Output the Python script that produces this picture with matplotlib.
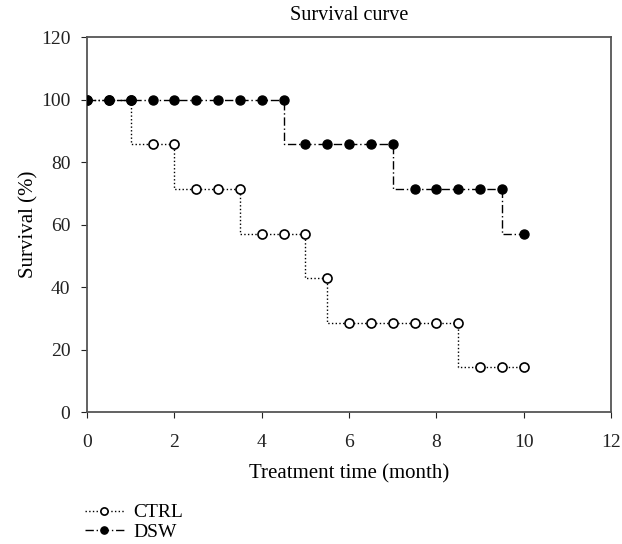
import matplotlib
matplotlib.use('Agg')
import matplotlib.pyplot as plt

plt.rcParams['font.family'] = ['Liberation Serif', 'DejaVu Serif']

# survival data (months, %)
months = [0, 0.5, 1, 1.5, 2, 2.5, 3, 3.5, 4, 4.5, 5, 5.5, 6, 6.5, 7, 7.5, 8, 8.5, 9, 9.5, 10]
ctrl = [100, 100, 100, 85.7, 85.7, 71.4, 71.4, 71.4, 57.1, 57.1, 57.1, 42.9,
        28.6, 28.6, 28.6, 28.6, 28.6, 28.6, 14.3, 14.3, 14.3]
dsw = [100, 100, 100, 100, 100, 100, 100, 100, 100, 100, 85.7, 85.7,
       85.7, 85.7, 85.7, 71.4, 71.4, 71.4, 71.4, 71.4, 57.1]

fig = plt.figure(figsize=(6.22, 5.44), dpi=100)
ax = fig.add_axes([0.1399, 0.2426, 0.8424, 0.6893])

ax.plot(months, ctrl, drawstyle='steps-pre', color='black', linestyle=':', linewidth=1,
        marker='o', markersize=6.5, markerfacecolor='white', markeredgecolor='black',
        markeredgewidth=1.2, label='CTRL', zorder=2)
ax.plot(months, dsw, drawstyle='steps-pre', color='black', linestyle=(0, (6, 2, 1, 2)),
        linewidth=1, marker='o', markersize=6.5, markerfacecolor='black',
        markeredgecolor='black', label='DSW', zorder=3)

ax.set_xlim(0, 12)
ax.set_ylim(0, 120)
ax.set_xticks(range(0, 13, 2))
ax.set_yticks(range(0, 121, 20))
ax.tick_params(direction='out', length=4, labelsize=14, colors='#222222')
ax.tick_params(axis='x', pad=12)
ax.tick_params(axis='y', pad=8)
for s in ax.spines.values():
    s.set_color('#555555')
    s.set_linewidth(1.3)

ax.set_title('Survival curve', fontsize=14.5, pad=12)
ax.set_xlabel('Treatment time (month)', fontsize=15, labelpad=9)
ax.set_ylabel('Survival (%)', fontsize=15, labelpad=2)

fig.legend(loc='lower left', bbox_to_anchor=(0.127, -0.005), frameon=False, fontsize=14,
           handlelength=2.0, handletextpad=0.5, labelspacing=0.1, markerscale=0.8,
           borderaxespad=0.2, borderpad=0.1)

fig.savefig('out.png', dpi=100)
